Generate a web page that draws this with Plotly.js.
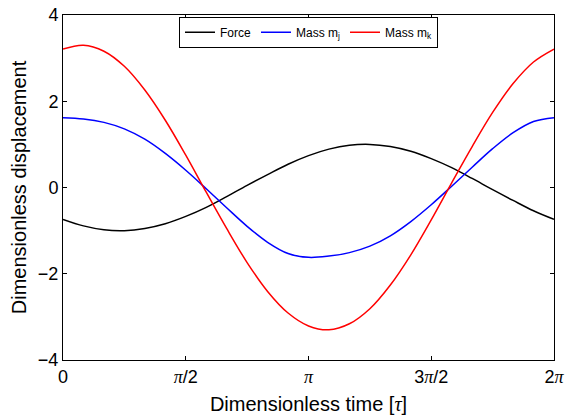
<!DOCTYPE html>
<html>
<head>
<meta charset="utf-8">
<script src="https://cdn.plot.ly/plotly-3.0.1.min.js"></script>
<style>html,body{margin:0;padding:0;background:#fff;}#chart{width:567px;height:419px;}</style>
</head>
<body>
<div id="chart"></div>
<script>
// Dimensionless time (rad), 0 .. 2π
const tau = [0, 0.262, 0.524, 0.785, 1.047, 1.309, 1.571, 1.833, 2.094, 2.356, 2.618, 2.880, 3.142,
             3.403, 3.665, 3.927, 4.189, 4.451, 4.712, 4.974, 5.236, 5.498, 5.760, 6.021, 6.283];
const force = [-0.74, -0.89, -0.98, -1.00, -0.95, -0.84, -0.67, -0.46, -0.21, 0.05, 0.30, 0.54, 0.74,
               0.89, 0.98, 1.00, 0.95, 0.84, 0.67, 0.46, 0.21, -0.05, -0.30, -0.54, -0.74];
const massJ = [1.62, 1.59, 1.51, 1.36, 1.12, 0.79, 0.40, -0.03, -0.47, -0.90, -1.27, -1.53, -1.62,
               -1.59, -1.51, -1.36, -1.12, -0.79, -0.40, 0.03, 0.47, 0.90, 1.27, 1.53, 1.62];
const massK = [3.21, 3.30, 3.16, 2.81, 2.26, 1.56, 0.75, -0.11, -0.95, -1.74, -2.41, -2.91, -3.21,
               -3.30, -3.16, -2.81, -2.26, -1.56, -0.75, 0.11, 0.95, 1.74, 2.41, 2.91, 3.21];
const seriesNames = ['Force', 'Mass m<sub>j</sub>', 'Mass m<sub>k</sub>'];
const xTickVals = [0, 1.5708, 3.1416, 4.7124, 6.2832];
const PI = '<span style="font-family:Liberation Serif, Times New Roman, serif"><i>π</i></span>';
const xTickText = ['0', PI + '/2', PI, '3' + PI + '/2', '2' + PI];
const yTickVals = [-4, -2, 0, 2, 4];

const sans = 'Liberation Sans, Arial, Helvetica, sans-serif';
const traces = [
  {x: tau, y: force, name: seriesNames[0], mode: 'lines', line: {color: '#000000', width: 1.5, shape: 'spline'}},
  {x: tau, y: massJ, name: seriesNames[1], mode: 'lines', line: {color: '#0000ff', width: 1.5, shape: 'spline'}},
  {x: tau, y: massK, name: seriesNames[2], mode: 'lines', line: {color: '#ff0000', width: 1.5, shape: 'spline'}}
];
const layout = {
  width: 567, height: 419,
  margin: {l: 62.5, r: 12.5, t: 15, b: 59},
  paper_bgcolor: '#ffffff', plot_bgcolor: '#ffffff',
  font: {family: sans, color: '#000000', size: 18},
  showlegend: true,
  legend: {
    orientation: 'h', x: 0.5, xanchor: 'center', y: 0.995, yanchor: 'top',
    bgcolor: '#ffffff', bordercolor: '#000000', borderwidth: 1,
    font: {family: sans, size: 12, color: '#000000'},
    itemwidth: 30, tracegroupgap: 0
  },
  xaxis: {
    range: [0, 6.2832], tickmode: 'array', tickvals: xTickVals, ticktext: xTickText,
    ticks: 'inside', ticklen: 4, tickwidth: 1, tickcolor: '#000',
    showline: true, linecolor: '#000', linewidth: 1, mirror: 'ticks',
    showgrid: false, zeroline: false,
    tickfont: {family: sans, size: 18},
    title: {text: 'Dimensionless time [<span style="font-family:Liberation Serif, Times New Roman, serif"><i>τ</i></span>]', font: {family: sans, size: 20}, standoff: 11}
  },
  yaxis: {
    range: [-4, 4], tickmode: 'array', tickvals: yTickVals,
    ticks: 'inside', ticklen: 4, tickwidth: 1, tickcolor: '#000',
    showline: true, linecolor: '#000', linewidth: 1, mirror: 'ticks',
    showgrid: false, zeroline: false,
    tickfont: {family: sans, size: 18},
    title: {text: 'Dimensionless displacement', font: {family: sans, size: 20}, standoff: 5}
  }
};
Plotly.newPlot('chart', traces, layout, {displayModeBar: false, staticPlot: true});
</script>
</body>
</html>
